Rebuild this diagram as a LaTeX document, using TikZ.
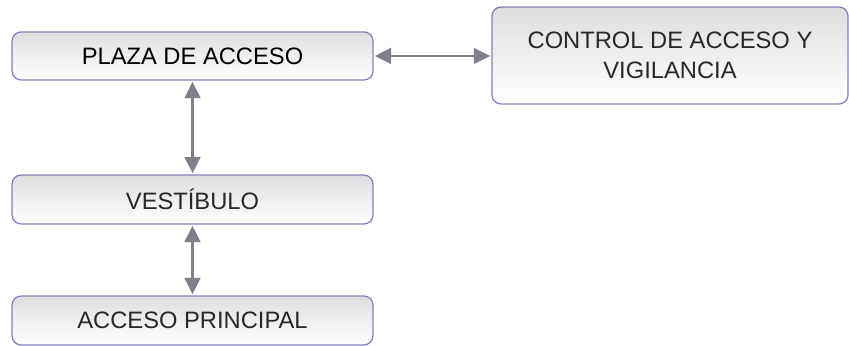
\documentclass[tikz,border=0pt]{standalone}
\usepackage{fontspec}
\setmainfont{Liberation Sans}
\usetikzlibrary{arrows.meta,shadings}

\definecolor{boxline}{RGB}{128,128,192}
\definecolor{arrowgray}{RGB}{128,128,140}
\definecolor{boxtop}{RGB}{222,222,224}
\definecolor{txtgray}{RGB}{40,40,40}

\tikzset{
    zona/.style={rectangle, rounded corners=0.3cm, draw=boxline, line width=1.2pt,
        top color=boxtop, bottom color=white, text=txtgray, align=center,
        font=\fontsize{22.5}{29}\selectfont, inner sep=0pt},
    enlace/.style={{Triangle[length=0.55cm,width=0.52cm]}-{Triangle[length=0.55cm,width=0.52cm]},
        arrowgray, line width=2.8pt, shorten <=1pt, shorten >=1pt}
}

\begin{document}
\begin{tikzpicture}
        \useasboundingbox (0,0) rectangle (28.3,11.533);

        % zonas del programa
        \node[zona, minimum width=12.03cm, minimum height=1.6cm, text=black] (plaza) at (6.417, 9.667) {PLAZA DE ACCESO};
        \node[zona, minimum width=11.87cm, minimum height=3.23cm] (control) at (22.333, 9.683) {CONTROL DE ACCESO Y\\VIGILANCIA};
        \node[zona, minimum width=12.03cm, minimum height=1.63cm] (vest) at (6.417, 4.883) {VESTÍBULO};
        \node[zona, minimum width=12.03cm, minimum height=1.63cm] (acceso) at (6.417, 0.85) {ACCESO PRINCIPAL};

        % relaciones
        \draw[enlace] (plaza.east) -- (plaza.east -| control.west);
        \draw[enlace] (plaza) -- (vest);
        \draw[enlace] (vest) -- (acceso);
\end{tikzpicture}
\end{document}
